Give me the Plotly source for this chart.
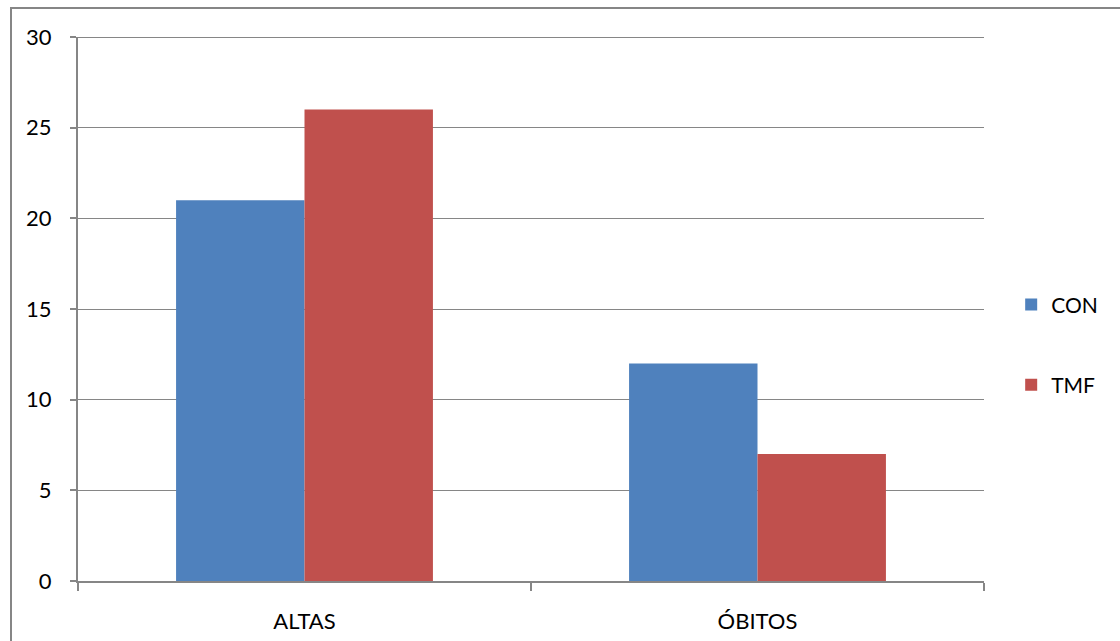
import plotly.graph_objects as go

categories = ["ALTAS", "ÓBITOS"]
con_values = [21, 12]
tmf_values = [26, 7]
y_ticks = [0, 5, 10, 15, 20, 25, 30]

FONT = "Lato"
GRAY = "#868686"

fig = go.Figure()
fig.add_trace(go.Bar(x=categories, y=con_values, name="CON", marker_color="#4F81BD",
                     marker_line_width=0, legendgroup="a"))
fig.add_trace(go.Bar(x=categories, y=tmf_values, name="TMF", marker_color="#C0504D",
                     marker_line_width=0, legendgroup="b"))

fig.update_layout(
    width=1120, height=641,
    margin=dict(l=78, r=136, t=37, b=60, autoexpand=False),
    paper_bgcolor="white", plot_bgcolor="white",
    barmode="group", bargap=0.433, bargroupgap=0,
    font=dict(family=FONT, size=22, color="#000000"),
    legend=dict(x=1.03, y=0.434, xanchor="left", yanchor="middle",
                tracegroupgap=50, font=dict(family=FONT, size=21),
                itemwidth=30, traceorder="grouped"),
    xaxis=dict(showline=True, linecolor=GRAY, linewidth=2, ticks="outside",
               tickson="boundaries", ticklen=8, tickcolor=GRAY, tickwidth=2,
               ticklabelstandoff=20, showgrid=False, automargin=False),
    yaxis=dict(range=[0, 30], tickvals=y_ticks, showline=True, linecolor=GRAY, linewidth=2,
               ticks="outside", ticklen=6, tickcolor=GRAY, tickwidth=2,
               showgrid=True, gridcolor=GRAY, gridwidth=1, zeroline=False,
               ticklabelstandoff=14, automargin=False),
    shapes=[
        dict(type="rect", xref="paper", yref="paper",
             x0=(11 - 78) / 906, x1=(1130 - 78) / 906,
             y0=(581 - 650) / 544, y1=(581 - 8) / 544,
             line=dict(color=GRAY, width=2), layer="below"),
        dict(type="line", xref="paper", yref="y", x0=0, x1=1, y0=30, y1=30,
             line=dict(color=GRAY, width=2), layer="below"),
    ],
)

fig.write_html("out.html")
